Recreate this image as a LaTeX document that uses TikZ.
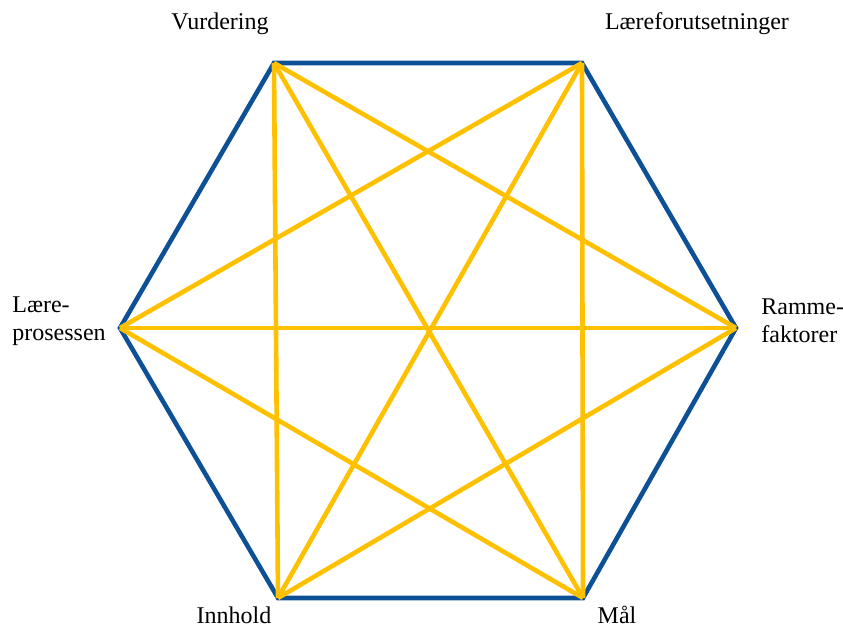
\documentclass[tikz,border=0pt]{standalone}
\usepackage{fontspec}
\setmainfont{Liberation Serif}
\usetikzlibrary{positioning}
\definecolor{hexblue}{RGB}{14,80,150}
\definecolor{diagyellow}{RGB}{255,192,0}

\begin{document}
\begin{tikzpicture}[x=1pt, y=1pt,
    edge/.style={line width=2.3pt, hexblue, line join=miter},
    diag/.style={line width=2.3pt, diagyellow},
    lbl/.style={font=\fontsize{12}{14}\selectfont, inner sep=0pt}]
    \useasboundingbox (0, 0) rectangle (421.5, 313);

    \coordinate (vur) at (137, 281.5);
    \coordinate (lfo) at (291, 281.5);
    \coordinate (ram) at (368, 149);
    \coordinate (mal) at (291.5, 14);
    \coordinate (inn) at (139, 14);
    \coordinate (lpr) at (60, 149);

    \draw[edge] (vur) -- (lfo) -- (ram) -- (mal) -- (inn) -- (lpr) -- cycle;

    \foreach \a/\b in {vur/ram, vur/mal, vur/inn, lfo/mal, lfo/inn, lfo/lpr,
                       ram/inn, ram/lpr, mal/lpr}
        \draw[diag] (\a) -- (\b);

    \node[lbl] (tvur) at (110, 301) {Vurdering};
    \node[lbl] (tlfo) at (348.5, 301) {Læreforutsetninger};
    \node[lbl, align=left, anchor=west] (tlpr) at (6, 152.5) {Lære-\\prosessen};
    \node[lbl, align=left, anchor=west] (tram) at (380.5, 152.5) {Ramme-\\faktorer};
    \node[lbl] (tinn) at (117, 5.5) {Innhold};
    \node[lbl] (tmal) at (308.5, 5.5) {Mål};
\end{tikzpicture}
\end{document}
